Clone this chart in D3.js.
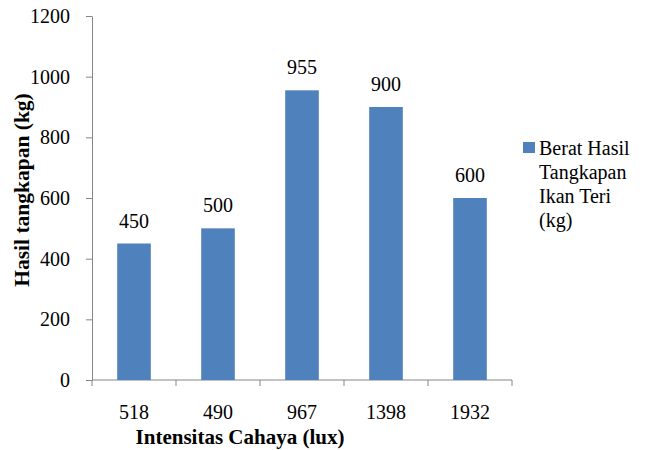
<!DOCTYPE html>
<html>
<head>
<meta charset="utf-8">
<script src="https://cdn.jsdelivr.net/npm/d3@7"></script>
</head>
<body style="margin:0;background:#fff">
<svg id="chart" width="650" height="450" font-family="Liberation Serif, Tinos, Times New Roman, FreeSerif, serif"></svg>
<script>
// Light intensity (lux) per trial and anchovy catch weight (kg)
const categories = ["518", "490", "967", "1398", "1932"];
const catchKg = [450, 500, 955, 900, 600];
const yTicks = [0, 200, 400, 600, 800, 1000, 1200];
const legendLines = ["Berat Hasil", "Tangkapan", "Ikan Teri", "(kg)"];

const barColor = "#4F81BD";
const axisColor = "#868686";
const textFont = "'Liberation Serif', 'Tinos', 'Times New Roman', 'FreeSerif', serif";

function label(sel) {
  return sel.attr("font-family", textFont)
    .style("font-family", textFont)
    .style("font-size", "20px")
    .attr("fill", "#000");
}

(function drawChart() {
  const svg = d3.select("#chart");
  const plotLeft = 92, plotRight = 512, plotTop = 16, plotBottom = 380;

  const x = d3.scaleBand()
    .domain(categories)
    .range([plotLeft, plotRight])
    .paddingInner(0.6)
    .paddingOuter(0.3);

  const y = d3.scaleLinear().domain([0, 1200]).range([plotBottom, plotTop]);

  // Y axis
  const yAxis = svg.append("g")
    .attr("transform", `translate(${plotLeft},0)`)
    .call(d3.axisLeft(y).tickValues(yTicks).tickFormat(d3.format("d"))
      .tickSize(6).tickPadding(16).tickSizeOuter(0));
  yAxis.attr("font-family", textFont);
  yAxis.select(".domain").attr("stroke", axisColor);
  yAxis.selectAll(".tick line").attr("stroke", axisColor);
  yAxis.selectAll(".tick text").call(label);

  // X axis with ticks on band boundaries
  const xg = svg.append("g").attr("transform", `translate(0,${plotBottom})`);
  xg.append("line")
    .attr("x1", plotLeft).attr("x2", plotRight)
    .attr("y1", 0).attr("y2", 0)
    .attr("stroke", axisColor);
  const step = x.step();
  const boundaries = d3.range(categories.length + 1).map(i => plotLeft + i * step);
  xg.selectAll("line.tick")
    .data(boundaries)
    .enter().append("line")
    .attr("class", "tick")
    .attr("x1", d => d).attr("x2", d => d)
    .attr("y1", 0).attr("y2", 6)
    .attr("stroke", axisColor);
  xg.selectAll("text.lbl")
    .data(categories)
    .enter().append("text")
    .attr("class", "lbl")
    .attr("x", d => x(d) + x.bandwidth() / 2)
    .attr("y", 39)
    .attr("text-anchor", "middle")
    .call(label)
    .text(d => d);

  // Bars
  svg.append("g").selectAll("rect")
    .data(catchKg)
    .enter().append("rect")
    .attr("x", (d, i) => x(categories[i]))
    .attr("y", d => y(d))
    .attr("width", x.bandwidth())
    .attr("height", d => y(0) - y(d))
    .attr("fill", barColor);

  // Value labels
  svg.append("g").selectAll("text")
    .data(catchKg)
    .enter().append("text")
    .attr("x", (d, i) => x(categories[i]) + x.bandwidth() / 2)
    .attr("y", d => y(d) - 16)
    .attr("text-anchor", "middle")
    .call(label)
    .text(d => d);

  // Axis titles
  svg.append("text")
    .attr("x", 240).attr("y", 444)
    .attr("text-anchor", "middle")
    .call(label)
    .style("font-size", "21px")
    .style("font-weight", "bold")
    .text("Intensitas Cahaya (lux)");

  svg.append("text")
    .attr("transform", "translate(29,190) rotate(-90)")
    .attr("text-anchor", "middle")
    .call(label)
    .style("font-size", "21.5px")
    .style("font-weight", "bold")
    .text("Hasil tangkapan (kg)");

  // Legend
  const lg = svg.append("g").attr("transform", "translate(523,142)");
  lg.append("rect")
    .attr("x", 0).attr("y", 0)
    .attr("width", 12).attr("height", 11)
    .attr("fill", barColor);
  lg.selectAll("text")
    .data(legendLines)
    .enter().append("text")
    .attr("x", 16)
    .attr("y", (d, i) => 13 + i * 24)
    .call(label)
    .text(d => d);
})();
</script>
</body>
</html>
